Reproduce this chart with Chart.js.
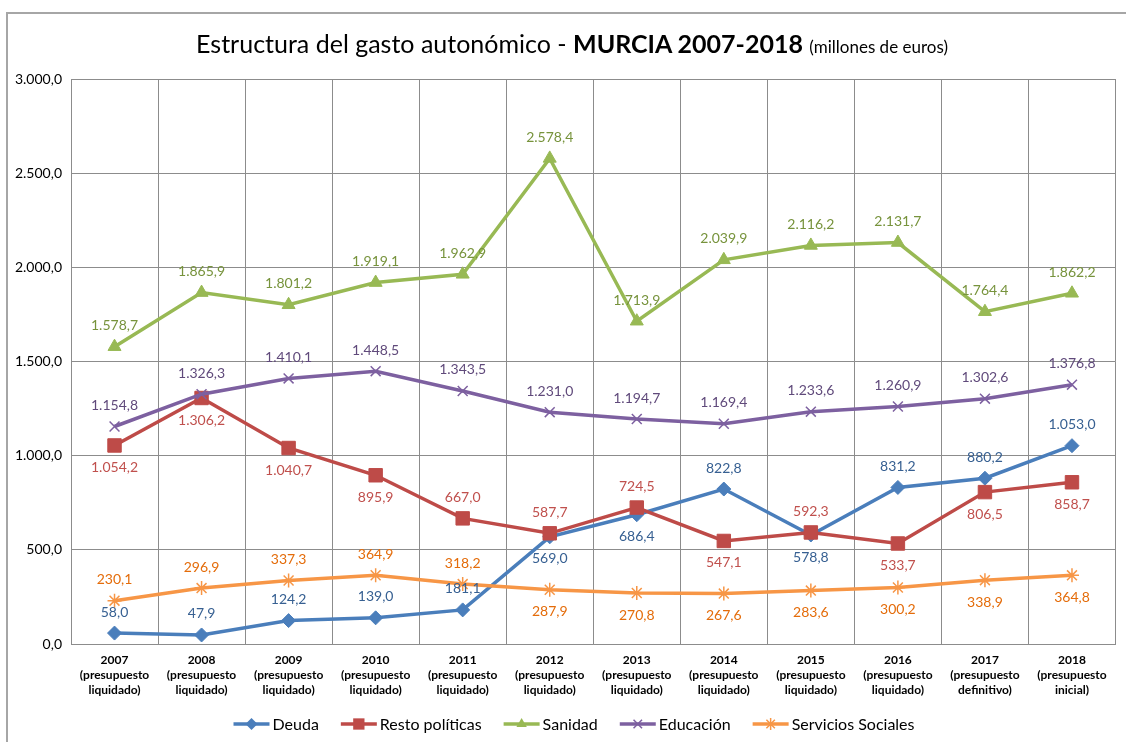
<!DOCTYPE html>
<html lang="es">
<head>
<meta charset="utf-8">
<title>Estructura del gasto autonómico - MURCIA 2007-2018</title>
<script src="https://cdn.jsdelivr.net/npm/chart.js@4.4.1/dist/chart.umd.min.js"></script>
<style>
  html, body { margin: 0; padding: 0; background: #fff; }
  #wrap { position: relative; width: 1126px; height: 742px; overflow: hidden; font-family: Lato, "DejaVu Sans", sans-serif; }
  #marco { position: absolute; left: 6px; top: 12px; width: 1140px; height: 780px; border: 2px solid #a6a6a6; box-sizing: border-box; }
  #titulo { position: absolute; left: 6px; top: 28px; width: 1132px; text-align: center; white-space: nowrap; color: #000; font-size: 25px; line-height: 30px; }
  #titulo b { font-weight: 700; }
  #titulo small { font-size: 17px; }
  canvas { position: absolute; left: 0; top: 0; }
</style>
</head>
<body>
<div id="wrap">
  <div id="marco"></div>
  <canvas id="grafico" width="1126" height="742"></canvas>
  <div id="titulo">Estructura del gasto autonómico - <b>MURCIA 2007-2018</b> <small>(millones de euros)</small></div>
</div>
<script>
// años y tipo de presupuesto de cada ejercicio
const anios = ['2007', '2008', '2009', '2010', '2011', '2012', '2013', '2014', '2015', '2016', '2017', '2018']
const tipoPresupuesto = ['liquidado', 'liquidado', 'liquidado', 'liquidado', 'liquidado', 'liquidado',
  'liquidado', 'liquidado', 'liquidado', 'liquidado', 'definitivo', 'inicial']

// millones de euros
const deuda = [58.0, 47.9, 124.2, 139.0, 181.1, 569.0, 686.4, 822.8, 578.8, 831.2, 880.2, 1053.0]
const restoPoliticas = [1054.2, 1306.2, 1040.7, 895.9, 667.0, 587.7, 724.5, 547.1, 592.3, 533.7, 806.5, 858.7]
const sanidad = [1578.7, 1865.9, 1801.2, 1919.1, 1962.9, 2578.4, 1713.9, 2039.9, 2116.2, 2131.7, 1764.4, 1862.2]
const educacion = [1154.8, 1326.3, 1410.1, 1448.5, 1343.5, 1231.0, 1194.7, 1169.4, 1233.6, 1260.9, 1302.6, 1376.8]
const serviciosSociales = [230.1, 296.9, 337.3, 364.9, 318.2, 287.9, 270.8, 267.6, 283.6, 300.2, 338.9, 364.8]

const ejeYMin = 0
const ejeYMax = 3000
const ejeYPaso = 500

const etiquetasX = anios.map((a, i) => [a, '(presupuesto', tipoPresupuesto[i] + ')'])

// índices cuya etiqueta va debajo del punto
const etiquetaDebajo = {
  'Deuda': [5, 6, 8],
  'Resto políticas': [0, 1, 2, 3, 7, 9, 10, 11],
  'Sanidad': [],
  'Educación': [],
  'Servicios Sociales': [5, 6, 7, 8, 9, 10, 11],
}

function formatoES(v) {
  const partes = Math.abs(v).toFixed(1).split('.')
  const entero = partes[0].replace(/\B(?=(\d{3})+(?!\d))/g, '.')
  return (v < 0 ? '-' : '') + entero + ',' + partes[1]
}

const FUENTE = 'Lato, "DejaVu Sans", sans-serif'
const colorRejilla = '#8c8c8c'

function serie(label, data, color, colorTexto, estilo, radio, orden) {
  return {
    label, data,
    borderColor: color,
    backgroundColor: color,
    pointBackgroundColor: color,
    pointBorderColor: color,
    pointStyle: estilo,
    pointRadius: radio,
    pointHoverRadius: radio,
    pointBorderWidth: (estilo === 'crossRot' || estilo === 'star') ? 1.5 : 1,
    borderWidth: 3.5,
    tension: 0,
    fill: false,
    order: orden,
    colorTexto,
  }
}

const datasets = [
  serie('Deuda', deuda, '#4a7ebb', '#376092', 'rectRot', 7, 5),
  serie('Resto políticas', restoPoliticas, '#be4b48', '#c0504d', 'rect', 9.5, 4),
  serie('Sanidad', sanidad, '#98b954', '#77933c', 'triangle', 7.5, 3),
  serie('Educación', educacion, '#7d60a0', '#604a7b', 'crossRot', 7, 2),
  serie('Servicios Sociales', serviciosSociales, '#f79646', '#e46c0a', 'star', 7, 1),
]

// marcador pequeño para la leyenda
function dibujaMarcador(ctx, estilo, x, y, r, color) {
  ctx.save()
  ctx.fillStyle = color
  ctx.strokeStyle = color
  ctx.lineWidth = 1.5
  ctx.beginPath()
  if (estilo === 'rectRot') {
    ctx.moveTo(x, y - r); ctx.lineTo(x + r, y); ctx.lineTo(x, y + r); ctx.lineTo(x - r, y); ctx.closePath(); ctx.fill()
  } else if (estilo === 'rect') {
    const s = r * Math.SQRT1_2
    ctx.rect(x - s, y - s, 2 * s, 2 * s); ctx.fill()
  } else if (estilo === 'triangle') {
    const h = r * 0.866
    ctx.moveTo(x, y - r); ctx.lineTo(x + h, y + r / 2); ctx.lineTo(x - h, y + r / 2); ctx.closePath(); ctx.fill()
  } else {
    const d = r * Math.SQRT1_2
    ctx.moveTo(x - d, y - d); ctx.lineTo(x + d, y + d)
    ctx.moveTo(x - d, y + d); ctx.lineTo(x + d, y - d)
    if (estilo === 'star') {
      ctx.moveTo(x, y - r); ctx.lineTo(x, y + r)
      ctx.moveTo(x - r, y); ctx.lineTo(x + r, y)
    }
    ctx.stroke()
  }
  ctx.restore()
}

const etiquetasValores = {
  id: 'etiquetasValores',
  afterDatasetsDraw(chart) {
    const { ctx } = chart
    ctx.save()
    ctx.font = '14px ' + FUENTE
    ctx.textAlign = 'center'
    ctx.textBaseline = 'middle'
    chart.data.datasets.forEach((ds, i) => {
      const meta = chart.getDatasetMeta(i)
      const debajo = etiquetaDebajo[ds.label] || []
      ctx.fillStyle = ds.colorTexto
      meta.data.forEach((pt, j) => {
        const dy = debajo.includes(j) ? 22 : -21
        ctx.fillText(formatoES(ds.data[j]), pt.x, pt.y + dy)
      })
    })
    ctx.restore()
  }
}

const leyenda = {
  id: 'leyendaLineas',
  afterDraw(chart) {
    const { ctx } = chart
    const largoLinea = 36, hueco = 3, separacion = 22, centroX = 574, y = 724
    ctx.save()
    ctx.font = '16px ' + FUENTE
    ctx.textBaseline = 'middle'
    ctx.textAlign = 'left'
    const anchos = chart.data.datasets.map(ds => largoLinea + hueco + ctx.measureText(ds.label).width)
    const total = anchos.reduce((a, b) => a + b, 0) + separacion * (anchos.length - 1)
    let x = centroX - total / 2
    chart.data.datasets.forEach((ds, i) => {
      ctx.strokeStyle = ds.borderColor
      ctx.lineWidth = 3.5
      ctx.beginPath()
      ctx.moveTo(x, y); ctx.lineTo(x + largoLinea, y)
      ctx.stroke()
      dibujaMarcador(ctx, ds.pointStyle, x + largoLinea / 2, y, ds.pointStyle === 'rect' ? 8 : 6, ds.borderColor)
      ctx.fillStyle = '#000'
      ctx.fillText(ds.label, x + largoLinea + hueco, y + 1)
      x += anchos[i] + separacion
    })
    ctx.restore()
  }
}

const ctx = document.getElementById('grafico').getContext('2d')

const config = {
  type: 'line',
  data: { labels: etiquetasX, datasets },
  plugins: [etiquetasValores, leyenda],
  options: {
    responsive: false,
    animation: false,
    layout: { padding: { top: 79, right: 10, bottom: 0, left: 0 } },
    plugins: {
      legend: { display: false },
      title: { display: false },
      tooltip: { enabled: false },
    },
    scales: {
      x: {
        offset: true,
        grid: { offset: true, color: colorRejilla, lineWidth: 1, drawTicks: false },
        border: { color: colorRejilla, width: 1 },
        ticks: {
          color: '#000',
          font: { family: FUENTE, size: 12, weight: 'bold', lineHeight: 1.25 },
          padding: 9,
          maxRotation: 0,
          autoSkip: false,
        },
        afterFit(s) { s.height = 98 },
      },
      y: {
        min: ejeYMin,
        max: ejeYMax,
        grid: { color: colorRejilla, lineWidth: 1, drawTicks: false },
        border: { color: colorRejilla, width: 1 },
        ticks: {
          stepSize: ejeYPaso,
          color: '#000',
          font: { family: FUENTE, size: 14 },
          padding: 9,
          callback: v => formatoES(v),
        },
        afterFit(s) { s.width = 71 },
      },
    },
  },
}

const grafico = new Chart(ctx, config)
</script>
</body>
</html>
